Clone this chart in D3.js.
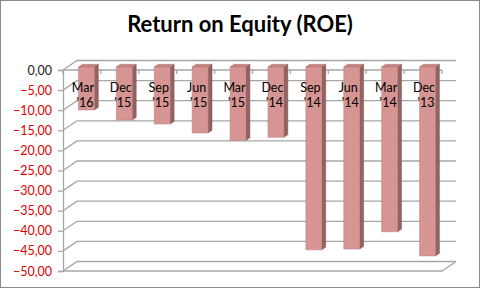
<!DOCTYPE html>
<html>
<head>
<meta charset="utf-8">
<script src="https://cdn.jsdelivr.net/npm/d3@7"></script>
<style>
  body { margin: 0; background: #fff; }
  svg { display: block; }
</style>
</head>
<body>
<svg id="chart"></svg>
<script>
// data
var categories = ["Mar '16", "Dec '15", "Sep '15", "Jun '15", "Mar '15", "Dec '14", "Sep '14", "Jun '14", "Mar '14", "Dec '13"];
var roeValues = [-10.7, -13.2, -14.2, -16.4, -18.3, -17.5, -45.5, -45.3, -41.0, -47.0];
var yTicks = [0, -5, -10, -15, -20, -25, -30, -35, -40, -45, -50];

var svgWidth = 481, svgHeight = 289;
var plot = { left: 63, right: 442, top: 70, bottom: 271 };
// oblique depth offset of the back wall
var depth = { dx: 14, dy: -9.5 };
var barFront = 0.32, barBack = 0.6;

var svg = d3.select("#chart")
  .attr("width", svgWidth)
  .attr("height", svgHeight);

// outer frame
svg.append("rect")
  .attr("x", 0.5).attr("y", 0.5)
  .attr("width", svgWidth - 2).attr("height", svgHeight - 2)
  .attr("fill", "#fff")
  .attr("stroke", "#8c8c8c");

svg.append("text")
  .attr("x", 240)
  .attr("y", 32)
  .attr("text-anchor", "middle")
  .attr("font-family", "Lato, 'Liberation Sans', sans-serif")
  .attr("font-weight", "bold")
  .attr("font-size", "22px")
  .attr("fill", "#000")
  .text("Return on Equity (ROE)");

var x = d3.scaleBand()
  .domain(categories)
  .range([plot.left, plot.right])
  .paddingInner(0.58)
  .paddingOuter(0.29);

var y = d3.scaleLinear()
  .domain([-50, 0])
  .range([plot.bottom, plot.top]);

function proj(px, py, f) {
  return [px + depth.dx * f, py + depth.dy * f];
}

var grid = svg.append("g")
  .attr("fill", "none")
  .attr("stroke", "#a6a6a6")
  .attr("stroke-width", 1.3);

// back wall lines and left wall diagonals
yTicks.forEach(function(v) {
  var a = proj(plot.left, y(v), 0), b = proj(plot.left, y(v), 1), c = proj(plot.right, y(v), 1);
  grid.append("path").attr("d", d3.line()([a, b, c]));
});

// floor
var fl = [proj(plot.left, y(-50), 0), proj(plot.right, y(-50), 0), proj(plot.right, y(-50), 1)];
grid.append("path").attr("d", d3.line()(fl));

// value axis
var yAxis = svg.append("g")
  .attr("transform", "translate(" + plot.left + ",0)")
  .call(d3.axisLeft(y).tickValues(yTicks).tickSize(5).tickPadding(6)
    .tickFormat(function(d) { return d3.format(".2f")(d).replace(".", ","); }));
yAxis.select(".domain").attr("stroke", "#a6a6a6").attr("stroke-width", 1.3);
yAxis.selectAll(".tick line").attr("stroke", "#a6a6a6").attr("stroke-width", 1.3);
yAxis.selectAll(".tick text")
  .attr("font-family", "Lato, 'Liberation Sans', sans-serif")
  .attr("font-size", "12.5px")
  .attr("fill", function(d) { return d < 0 ? "#e00000" : "#222"; });

// category axis along the zero line
var catAxis = svg.append("g")
  .attr("fill", "none")
  .attr("stroke", "#a6a6a6")
  .attr("stroke-width", 1.3);
catAxis.append("line")
  .attr("x1", plot.left).attr("x2", plot.right)
  .attr("y1", y(0)).attr("y2", y(0));
var step = x.step();
d3.range(categories.length + 1).forEach(function(i) {
  var tx = plot.left + i * step;
  catAxis.append("line")
    .attr("x1", tx).attr("x2", tx)
    .attr("y1", y(0)).attr("y2", y(0) + 4);
});

// 3d bars
var bars = svg.append("g").selectAll("g")
  .data(categories.map(function(c, i) { return { cat: c, value: roeValues[i] }; }))
  .join("g");

bars.each(function(d) {
  var g = d3.select(this);
  var x0 = x(d.cat), x1 = x(d.cat) + x.bandwidth();
  var yTop = y(0), yBot = y(d.value);
  var ftl = proj(x0, yTop, barFront), ftr = proj(x1, yTop, barFront);
  var fbl = proj(x0, yBot, barFront), fbr = proj(x1, yBot, barFront);
  var btl = proj(x0, yTop, barBack), btr = proj(x1, yTop, barBack);
  var bbr = proj(x1, yBot, barBack);

  g.append("path")
    .attr("d", d3.line()([ftr, btr, bbr, fbr]) + "Z")
    .attr("fill", "#946261")
    .attr("stroke", "#7d5150")
    .attr("stroke-width", 0.5);
  g.append("path")
    .attr("d", d3.line()([ftl, ftr, btr, btl]) + "Z")
    .attr("fill", "#c78584")
    .attr("stroke", "#a96f6e")
    .attr("stroke-width", 0.5);
  g.append("path")
    .attr("d", d3.line()([ftl, ftr, fbr, fbl]) + "Z")
    .attr("fill", "#d69593")
    .attr("stroke", "#b97b7a")
    .attr("stroke-width", 0.5);
});

// category labels, two lines each
var labels = svg.append("g")
  .attr("font-family", "Lato, 'Liberation Sans', sans-serif")
  .attr("font-size", "12.5px")
  .attr("fill", "#000")
  .attr("text-anchor", "middle");
categories.forEach(function(c) {
  var parts = c.split(" ");
  var cx = x(c) + x.bandwidth() / 2 + 1;
  labels.append("text").attr("x", cx).attr("y", 92).text(parts[0]);
  labels.append("text").attr("x", cx + 2).attr("y", 107).text(parts[1]);
});
</script>
</body>
</html>
